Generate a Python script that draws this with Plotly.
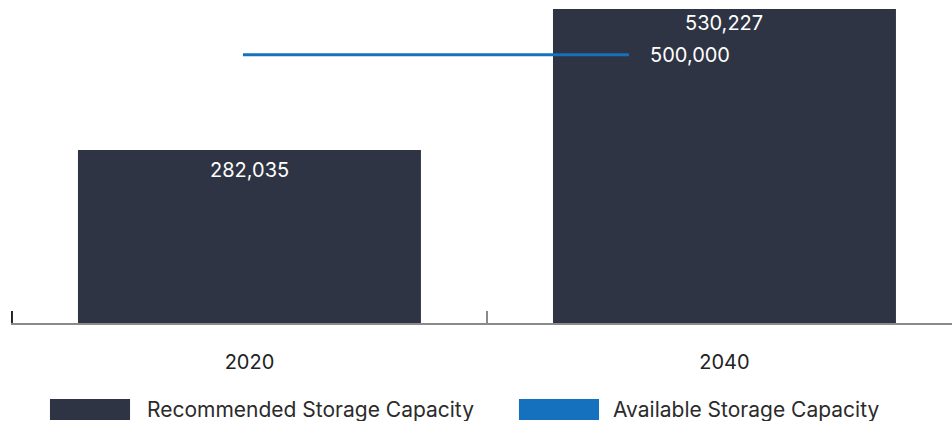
import plotly.graph_objects as go

# Storage capacity by planning year
years = ["2020", "2040"]
recommended = [282035, 530227]
available = [500000, 500000]

series_names = ["Recommended Storage Capacity", "Available Storage Capacity"]
bar_color = "#2e3443"
line_color = "#1570bd"
font_family = "Inter, 'Open Sans', Roboto, sans-serif"

Y_MAX = 512000      # visible top of the bar axis
Y2_MAX = 585200     # visible top of the line axis

fig = go.Figure()

fig.add_trace(go.Bar(
    x=years, y=recommended, name=series_names[0],
    marker=dict(color=bar_color, line=dict(width=0)),
    width=0.722, showlegend=False, hoverinfo="x+y",
))

fig.add_trace(go.Scatter(
    x=years, y=available, name=series_names[1],
    mode="lines", line=dict(color=line_color, width=3),
    xaxis="x2", yaxis="y2", showlegend=False, cliponaxis=False,
))

# value labels on the bars (clamped to the visible part of the axis);
# category axes take the category's index for annotation positions
for i, v in enumerate(recommended):
    clipped = v > Y_MAX
    fig.add_annotation(
        x=i, y=min(v, Y_MAX), xref="x", yref="y",
        text=f"{v:,}", showarrow=False,
        yanchor="middle", yshift=-14 if clipped else -20,
        font=dict(family=font_family, size=20, color="#ffffff"),
    )

# label at the end of the available-capacity line
fig.add_annotation(
    x=len(years) - 1, y=available[-1], xref="x2", yref="y2",
    text=f"{available[-1]:,}", showarrow=False,
    xanchor="left", xshift=19, yanchor="middle",
    font=dict(family=font_family, size=20, color="#ffffff"),
)

# left edge tick of the category axis
fig.add_shape(type="line", xref="x", yref="paper",
              x0=-0.5, x1=-0.5, y0=0, y1=0.038,
              line=dict(color="#222222", width=2))

# legend drawn as wide swatches with labels
legend_items = [
    (series_names[0], bar_color, 0.0414, 0.1265, 0.1424),
    (series_names[1], line_color, 0.5398, 0.6249, 0.6376),
]
for name, color, x0, x1, xt in legend_items:
    fig.add_shape(type="rect", xref="paper", yref="paper",
                  x0=x0, x1=x1, y0=-0.309, y1=-0.242,
                  fillcolor=color, line=dict(width=0))
    fig.add_annotation(x=xt, y=-0.275, xref="paper", yref="paper",
                       text=name, showarrow=False,
                       xanchor="left", yanchor="middle",
                       font=dict(family=font_family, size=21, color="#2b2b2b"))

fig.update_layout(
    width=952, height=421,
    margin=dict(l=11, r=0, t=9, b=98),
    paper_bgcolor="white", plot_bgcolor="white",
    font=dict(family=font_family, size=20, color="#222222"),
    xaxis=dict(
        type="category", range=[-0.502, 1.479],
        showline=True, linecolor="#8a8a8a", linewidth=2,
        ticks="inside", tickson="boundaries", ticklen=12,
        tickcolor="#8a8a8a", tickwidth=2,
        showgrid=False, zeroline=False,
        ticklabelstandoff=20,
        tickfont=dict(family=font_family, size=20, color="#222222"),
    ),
    yaxis=dict(range=[0, Y_MAX], visible=False, showgrid=False, zeroline=False),
    xaxis2=dict(type="category", overlaying="x", range=[-0.601, 1.837],
                visible=False, showgrid=False),
    yaxis2=dict(overlaying="y", range=[0, Y2_MAX], visible=False,
                showgrid=False, zeroline=False),
)

fig.write_html("out.html")
